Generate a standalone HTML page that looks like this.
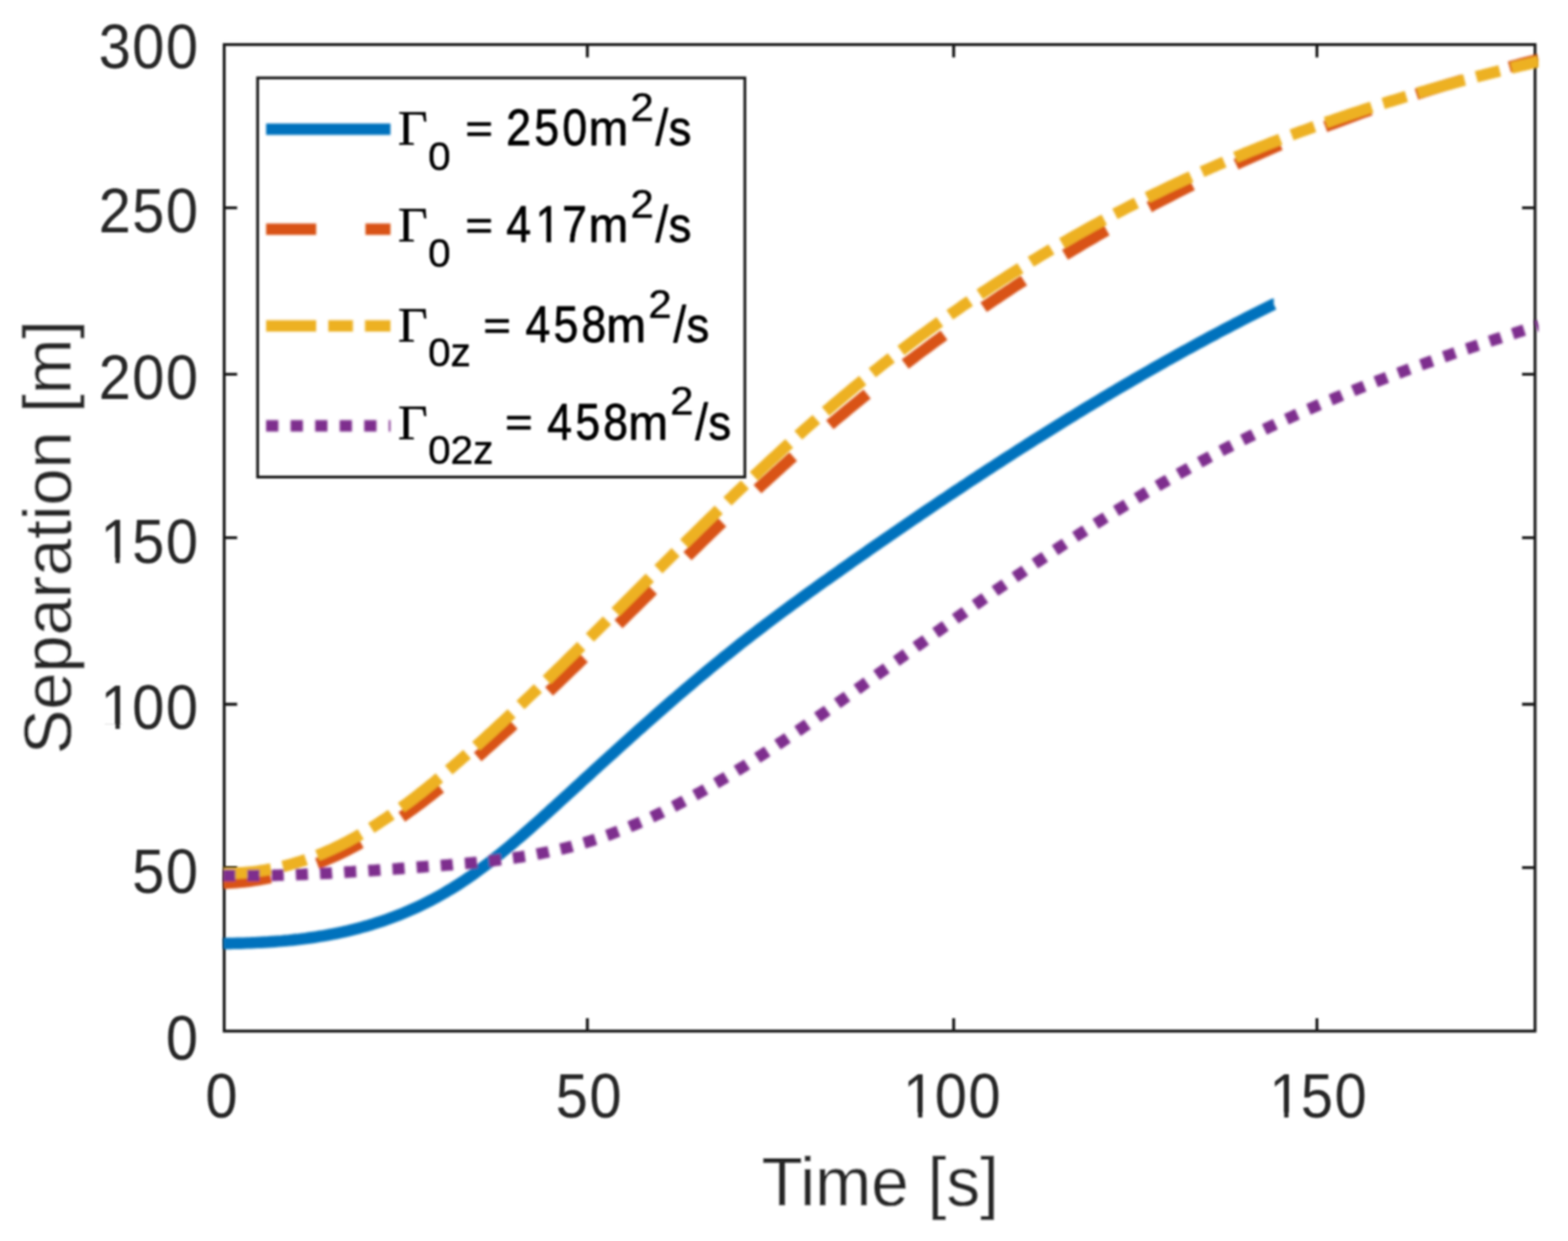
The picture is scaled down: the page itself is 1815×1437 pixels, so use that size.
<!DOCTYPE html>
<html lang="en"><head><meta charset="utf-8"><title>Separation vs Time</title>
<style>html,body{margin:0;padding:0;background:#fff;}body{width:1815px;height:1437px;overflow:hidden;}svg{display:block;}text{font-family:"Liberation Sans",sans-serif;fill:#262626;stroke:#fff;stroke-width:0.00px;stroke-linejoin:round;}.g{font-family:"Liberation Serif",serif;}</style></head><body>
<svg xmlns="http://www.w3.org/2000/svg" width="1815" height="1437" viewBox="0 0 1815 1437">
<defs>
<filter id="ba" x="0" y="0" width="1815" height="1437" filterUnits="userSpaceOnUse"><feGaussianBlur stdDeviation="0.95"/></filter>
<filter id="bc" x="0" y="0" width="1815" height="1437" filterUnits="userSpaceOnUse"><feGaussianBlur stdDeviation="1.40"/></filter>
<filter id="bt" x="0" y="0" width="1815" height="1437" filterUnits="userSpaceOnUse"><feGaussianBlur stdDeviation="1.10"/></filter>
<clipPath id="cp"><rect x="257.9" y="50.0" width="1523.1" height="1145.6"/></clipPath><clipPath id="c58_50_n0_90"><polygon points="-5.85,-49.73 22.88,-49.73 22.88,-6.12 20.33,-6.12 20.33,3.51 14.26,3.51 14.26,-6.12 -5.85,-6.12"/></clipPath><clipPath id="c72_80_0_00"><polygon points="-7.28,-61.88 27.74,-61.88 27.74,-5.94 24.24,-5.94 24.24,4.37 18.81,4.37 18.81,-5.94 -7.28,-5.94"/></clipPath></defs>
<rect x="0" y="0" width="1815" height="1437" fill="#fff"/>
<g filter="url(#ba)" fill="none" stroke="#161616" stroke-width="3.30">
<rect x="259.50" y="51.60" width="1517.35" height="1142.35"/>
<path d="M679.9,1194.0 v-15.0 M679.9,51.6 v15.0"/>
<path d="M1103.9,1194.0 v-15.0 M1103.9,51.6 v15.0"/>
<path d="M1524.4,1194.0 v-15.0 M1524.4,51.6 v15.0"/>
<path d="M259.5,1004.6 h15.0 M1776.8,1004.6 h-15.0"/>
<path d="M259.5,815.5 h15.0 M1776.8,815.5 h-15.0"/>
<path d="M259.5,622.7 h15.0 M1776.8,622.7 h-15.0"/>
<path d="M259.5,433.4 h15.0 M1776.8,433.4 h-15.0"/>
<path d="M259.5,240.7 h15.0 M1776.8,240.7 h-15.0"/>
</g>
<g filter="url(#bc)"><g clip-path="url(#cp)" fill="none" stroke-width="13.4" stroke-linejoin="round">
<path stroke="#0072BD" d="M258.4,1092.6 L262.4,1092.5 L266.4,1092.5 L270.4,1092.4 L274.4,1092.3 L278.4,1092.2 L282.4,1092.1 L286.4,1091.9 L290.4,1091.8 L294.4,1091.6 L298.4,1091.4 L302.4,1091.2 L306.4,1091.0 L310.4,1090.8 L314.4,1090.5 L318.4,1090.2 L322.4,1089.9 L326.4,1089.6 L330.4,1089.2 L334.4,1088.9 L338.4,1088.5 L342.4,1088.0 L346.4,1087.6 L350.4,1087.1 L354.4,1086.6 L358.4,1086.0 L362.4,1085.5 L366.4,1084.9 L370.4,1084.2 L374.4,1083.6 L378.4,1082.9 L382.4,1082.1 L386.4,1081.4 L390.4,1080.6 L394.4,1079.7 L398.4,1078.9 L402.4,1078.0 L406.4,1077.0 L410.4,1076.0 L414.4,1075.0 L418.4,1073.9 L422.4,1072.8 L426.4,1071.7 L430.4,1070.5 L434.4,1069.2 L438.4,1067.9 L442.4,1066.6 L446.4,1065.2 L450.4,1063.8 L454.4,1062.3 L458.4,1060.8 L462.4,1059.2 L466.4,1057.6 L470.4,1055.9 L474.4,1054.2 L478.4,1052.4 L482.4,1050.6 L486.4,1048.7 L490.4,1046.8 L494.4,1044.8 L498.4,1042.7 L502.4,1040.6 L506.4,1038.5 L510.4,1036.2 L514.4,1034.0 L518.4,1031.6 L522.4,1029.2 L526.4,1026.7 L530.4,1024.2 L534.4,1021.6 L538.4,1019.0 L542.4,1016.2 L546.4,1013.5 L550.4,1010.6 L554.4,1007.7 L558.4,1004.7 L562.4,1001.7 L566.4,998.7 L570.4,995.5 L574.4,992.4 L578.4,989.2 L582.4,985.9 L586.4,982.6 L590.4,979.3 L594.4,975.9 L598.4,972.5 L602.4,969.1 L606.4,965.6 L610.4,962.1 L614.4,958.6 L618.4,955.0 L622.4,951.5 L626.4,947.9 L630.4,944.3 L634.4,940.7 L638.4,937.0 L642.4,933.4 L646.4,929.8 L650.4,926.1 L654.4,922.5 L658.4,918.8 L662.4,915.2 L666.4,911.5 L670.4,907.9 L674.4,904.2 L678.4,900.5 L682.4,896.9 L686.4,893.2 L690.4,889.6 L694.4,885.9 L698.4,882.3 L702.4,878.6 L706.4,875.0 L710.4,871.4 L714.4,867.8 L718.4,864.1 L722.4,860.5 L726.4,856.9 L730.4,853.3 L734.4,849.7 L738.4,846.1 L742.4,842.6 L746.4,839.0 L750.4,835.5 L754.4,831.9 L758.4,828.4 L762.4,824.9 L766.4,821.4 L770.4,817.9 L774.4,814.4 L778.4,810.9 L782.4,807.5 L786.4,804.0 L790.4,800.6 L794.4,797.2 L798.4,793.8 L802.4,790.4 L806.4,787.0 L810.4,783.7 L814.4,780.3 L818.4,777.0 L822.4,773.7 L826.4,770.4 L830.4,767.1 L834.4,763.8 L838.4,760.6 L842.4,757.4 L846.4,754.2 L850.4,751.0 L854.4,747.8 L858.4,744.6 L862.4,741.5 L866.4,738.4 L870.4,735.3 L874.4,732.2 L878.4,729.1 L882.4,726.1 L886.4,723.0 L890.4,720.0 L894.4,717.0 L898.4,714.0 L902.4,711.0 L906.4,708.0 L910.4,705.1 L914.4,702.1 L918.4,699.2 L922.4,696.3 L926.4,693.4 L930.4,690.4 L934.4,687.6 L938.4,684.7 L942.4,681.8 L946.4,678.9 L950.4,676.1 L954.4,673.2 L958.4,670.4 L962.4,667.5 L966.4,664.7 L970.4,661.9 L974.4,659.0 L978.4,656.2 L982.4,653.4 L986.4,650.6 L990.4,647.8 L994.4,645.0 L998.4,642.2 L1002.4,639.4 L1006.4,636.6 L1010.4,633.8 L1014.4,631.0 L1018.4,628.3 L1022.4,625.5 L1026.4,622.7 L1030.4,620.0 L1034.4,617.2 L1038.4,614.5 L1042.4,611.7 L1046.4,609.0 L1050.4,606.2 L1054.4,603.5 L1058.4,600.8 L1062.4,598.1 L1066.4,595.3 L1070.4,592.6 L1074.4,589.9 L1078.4,587.2 L1082.4,584.5 L1086.4,581.8 L1090.4,579.1 L1094.4,576.5 L1098.4,573.8 L1102.4,571.1 L1106.4,568.4 L1110.4,565.8 L1114.4,563.1 L1118.4,560.5 L1122.4,557.8 L1126.4,555.2 L1130.4,552.6 L1134.4,549.9 L1138.4,547.3 L1142.4,544.7 L1146.4,542.1 L1150.4,539.5 L1154.4,536.9 L1158.4,534.3 L1162.4,531.7 L1166.4,529.1 L1170.4,526.6 L1174.4,524.0 L1178.4,521.4 L1182.4,518.9 L1186.4,516.3 L1190.4,513.8 L1194.4,511.3 L1198.4,508.7 L1202.4,506.2 L1206.4,503.7 L1210.4,501.2 L1214.4,498.7 L1218.4,496.2 L1222.4,493.7 L1226.4,491.2 L1230.4,488.8 L1234.4,486.3 L1238.4,483.8 L1242.4,481.4 L1246.4,478.9 L1250.4,476.5 L1254.4,474.0 L1258.4,471.6 L1262.4,469.2 L1266.4,466.8 L1270.4,464.4 L1274.4,462.0 L1278.4,459.6 L1282.4,457.2 L1286.4,454.8 L1290.4,452.5 L1294.4,450.1 L1298.4,447.7 L1302.4,445.4 L1306.4,443.1 L1310.4,440.7 L1314.4,438.4 L1318.4,436.1 L1322.4,433.8 L1326.4,431.5 L1330.4,429.2 L1334.4,426.9 L1338.4,424.6 L1342.4,422.4 L1346.4,420.1 L1350.4,417.8 L1354.4,415.6 L1358.4,413.4 L1362.4,411.1 L1366.4,408.9 L1370.4,406.7 L1374.4,404.5 L1378.4,402.3 L1382.4,400.1 L1386.4,397.9 L1390.4,395.8 L1394.4,393.6 L1398.4,391.4 L1402.4,389.3 L1406.4,387.2 L1410.4,385.0 L1414.4,382.9 L1418.4,380.8 L1422.4,378.7 L1426.4,376.6 L1430.4,374.5 L1434.4,372.5 L1438.4,370.4 L1442.4,368.3 L1446.4,366.3 L1450.4,364.2 L1454.4,362.2 L1458.4,360.2 L1462.4,358.2 L1466.4,356.2 L1470.4,354.2 L1474.4,352.2 L1474.5,352.2"/>
<path stroke="#D95319" stroke-dasharray="56.05 56.05" stroke-dashoffset="0.5" d="M258.4,1022.7 L262.4,1022.5 L266.4,1022.3 L270.4,1022.0 L274.4,1021.7 L278.4,1021.4 L282.4,1021.0 L286.4,1020.5 L290.4,1020.0 L294.4,1019.4 L298.4,1018.8 L302.4,1018.1 L306.4,1017.4 L310.4,1016.6 L314.4,1015.8 L318.4,1014.9 L322.4,1014.0 L326.4,1013.0 L330.4,1012.0 L334.4,1010.9 L338.4,1009.8 L342.4,1008.6 L346.4,1007.4 L350.4,1006.1 L354.4,1004.7 L358.4,1003.3 L362.4,1001.8 L366.4,1000.3 L370.4,998.8 L374.4,997.1 L378.4,995.4 L382.4,993.7 L386.4,991.9 L390.4,990.1 L394.4,988.2 L398.4,986.2 L402.4,984.2 L406.4,982.1 L410.4,980.0 L414.4,977.8 L418.4,975.6 L422.4,973.3 L426.4,971.0 L430.4,968.6 L434.4,966.2 L438.4,963.7 L442.4,961.2 L446.4,958.6 L450.4,956.0 L454.4,953.3 L458.4,950.6 L462.4,947.9 L466.4,945.1 L470.4,942.3 L474.4,939.4 L478.4,936.5 L482.4,933.6 L486.4,930.6 L490.4,927.6 L494.4,924.5 L498.4,921.4 L502.4,918.3 L506.4,915.1 L510.4,912.0 L514.4,908.7 L518.4,905.5 L522.4,902.2 L526.4,898.9 L530.4,895.6 L534.4,892.2 L538.4,888.8 L542.4,885.4 L546.4,882.0 L550.4,878.5 L554.4,875.1 L558.4,871.6 L562.4,868.0 L566.4,864.5 L570.4,860.9 L574.4,857.3 L578.4,853.8 L582.4,850.1 L586.4,846.5 L590.4,842.9 L594.4,839.2 L598.4,835.5 L602.4,831.8 L606.4,828.1 L610.4,824.4 L614.4,820.7 L618.4,816.9 L622.4,813.2 L626.4,809.4 L630.4,805.6 L634.4,801.8 L638.4,798.0 L642.4,794.2 L646.4,790.4 L650.4,786.5 L654.4,782.7 L658.4,778.8 L662.4,775.0 L666.4,771.1 L670.4,767.2 L674.4,763.3 L678.4,759.4 L682.4,755.5 L686.4,751.6 L690.4,747.7 L694.4,743.8 L698.4,739.9 L702.4,735.9 L706.4,732.0 L710.4,728.1 L714.4,724.1 L718.4,720.2 L722.4,716.2 L726.4,712.3 L730.4,708.3 L734.4,704.4 L738.4,700.4 L742.4,696.5 L746.4,692.5 L750.4,688.6 L754.4,684.6 L758.4,680.7 L762.4,676.7 L766.4,672.8 L770.4,668.9 L774.4,664.9 L778.4,661.0 L782.4,657.1 L786.4,653.1 L790.4,649.2 L794.4,645.3 L798.4,641.4 L802.4,637.5 L806.4,633.6 L810.4,629.7 L814.4,625.8 L818.4,621.9 L822.4,618.0 L826.4,614.2 L830.4,610.3 L834.4,606.5 L838.4,602.6 L842.4,598.8 L846.4,595.0 L850.4,591.2 L854.4,587.4 L858.4,583.6 L862.4,579.9 L866.4,576.1 L870.4,572.4 L874.4,568.6 L878.4,564.9 L882.4,561.2 L886.4,557.5 L890.4,553.8 L894.4,550.2 L898.4,546.5 L902.4,542.9 L906.4,539.3 L910.4,535.7 L914.4,532.1 L918.4,528.6 L922.4,525.0 L926.4,521.5 L930.4,518.0 L934.4,514.5 L938.4,511.0 L942.4,507.5 L946.4,504.1 L950.4,500.6 L954.4,497.2 L958.4,493.8 L962.4,490.4 L966.4,487.0 L970.4,483.7 L974.4,480.3 L978.4,477.0 L982.4,473.7 L986.4,470.4 L990.4,467.1 L994.4,463.8 L998.4,460.6 L1002.4,457.3 L1006.4,454.1 L1010.4,450.9 L1014.4,447.7 L1018.4,444.5 L1022.4,441.4 L1026.4,438.2 L1030.4,435.1 L1034.4,432.0 L1038.4,428.9 L1042.4,425.8 L1046.4,422.7 L1050.4,419.6 L1054.4,416.6 L1058.4,413.6 L1062.4,410.5 L1066.4,407.5 L1070.4,404.6 L1074.4,401.6 L1078.4,398.6 L1082.4,395.7 L1086.4,392.8 L1090.4,389.8 L1094.4,386.9 L1098.4,384.0 L1102.4,381.2 L1106.4,378.3 L1110.4,375.5 L1114.4,372.6 L1118.4,369.8 L1122.4,367.0 L1126.4,364.2 L1130.4,361.5 L1134.4,358.7 L1138.4,355.9 L1142.4,353.2 L1146.4,350.5 L1150.4,347.8 L1154.4,345.1 L1158.4,342.4 L1162.4,339.7 L1166.4,337.1 L1170.4,334.5 L1174.4,331.8 L1178.4,329.2 L1182.4,326.6 L1186.4,324.0 L1190.4,321.5 L1194.4,318.9 L1198.4,316.4 L1202.4,313.8 L1206.4,311.3 L1210.4,308.8 L1214.4,306.3 L1218.4,303.9 L1222.4,301.4 L1226.4,298.9 L1230.4,296.5 L1234.4,294.1 L1238.4,291.7 L1242.4,289.3 L1246.4,286.9 L1250.4,284.5 L1254.4,282.1 L1258.4,279.8 L1262.4,277.4 L1266.4,275.1 L1270.4,272.8 L1274.4,270.5 L1278.4,268.2 L1282.4,266.0 L1286.4,263.7 L1290.4,261.5 L1294.4,259.2 L1298.4,257.0 L1302.4,254.8 L1306.4,252.6 L1310.4,250.4 L1314.4,248.2 L1318.4,246.1 L1322.4,243.9 L1326.4,241.8 L1330.4,239.7 L1334.4,237.5 L1338.4,235.4 L1342.4,233.3 L1346.4,231.3 L1350.4,229.2 L1354.4,227.2 L1358.4,225.1 L1362.4,223.1 L1366.4,221.1 L1370.4,219.1 L1374.4,217.1 L1378.4,215.1 L1382.4,213.1 L1386.4,211.2 L1390.4,209.2 L1394.4,207.3 L1398.4,205.3 L1402.4,203.4 L1406.4,201.5 L1410.4,199.6 L1414.4,197.8 L1418.4,195.9 L1422.4,194.0 L1426.4,192.2 L1430.4,190.4 L1434.4,188.5 L1438.4,186.7 L1442.4,184.9 L1446.4,183.1 L1450.4,181.4 L1454.4,179.6 L1458.4,177.8 L1462.4,176.1 L1466.4,174.3 L1470.4,172.6 L1474.4,170.9 L1478.4,169.2 L1482.4,167.5 L1486.4,165.8 L1490.4,164.2 L1494.4,162.5 L1498.4,160.9 L1502.4,159.2 L1506.4,157.6 L1510.4,156.0 L1514.4,154.4 L1518.4,152.8 L1522.4,151.2 L1526.4,149.6 L1530.4,148.0 L1534.4,146.5 L1538.4,144.9 L1542.4,143.4 L1546.4,141.9 L1550.4,140.4 L1554.4,138.9 L1558.4,137.4 L1562.4,135.9 L1566.4,134.4 L1570.4,132.9 L1574.4,131.5 L1578.4,130.0 L1582.4,128.6 L1586.4,127.2 L1590.4,125.8 L1594.4,124.4 L1598.4,123.0 L1602.4,121.6 L1606.4,120.2 L1610.4,118.8 L1614.4,117.5 L1618.4,116.1 L1622.4,114.8 L1626.4,113.5 L1630.4,112.1 L1634.4,110.8 L1638.4,109.5 L1642.4,108.2 L1646.4,107.0 L1650.4,105.7 L1654.4,104.4 L1658.4,103.2 L1662.4,101.9 L1666.4,100.7 L1670.4,99.4 L1674.4,98.2 L1678.4,97.0 L1682.4,95.8 L1686.4,94.6 L1690.4,93.4 L1694.4,92.3 L1698.4,91.1 L1702.4,89.9 L1706.4,88.8 L1710.4,87.7 L1714.4,86.5 L1718.4,85.4 L1722.4,84.3 L1726.4,83.2 L1730.4,82.1 L1734.4,81.0 L1738.4,79.9 L1742.4,78.8 L1746.4,77.8 L1750.4,76.7 L1754.4,75.7 L1758.4,74.6 L1762.4,73.6 L1766.4,72.6 L1770.4,71.6 L1774.4,70.6 L1778.4,69.6 L1781.0,68.9"/>
<path stroke="#EDB120" stroke-dasharray="56.05 14.01 28.03 14.01" stroke-dashoffset="0.5" d="M258.4,1011.2 L262.4,1011.2 L266.4,1011.2 L270.4,1011.1 L274.4,1011.0 L278.4,1010.7 L282.4,1010.5 L286.4,1010.1 L290.4,1009.8 L294.4,1009.3 L298.4,1008.8 L302.4,1008.2 L306.4,1007.6 L310.4,1006.9 L314.4,1006.2 L318.4,1005.3 L322.4,1004.5 L326.4,1003.5 L330.4,1002.6 L334.4,1001.5 L338.4,1000.4 L342.4,999.2 L346.4,998.0 L350.4,996.7 L354.4,995.3 L358.4,993.9 L362.4,992.5 L366.4,990.9 L370.4,989.3 L374.4,987.7 L378.4,985.9 L382.4,984.2 L386.4,982.3 L390.4,980.4 L394.4,978.5 L398.4,976.4 L402.4,974.4 L406.4,972.2 L410.4,970.0 L414.4,967.8 L418.4,965.4 L422.4,963.1 L426.4,960.7 L430.4,958.2 L434.4,955.7 L438.4,953.1 L442.4,950.4 L446.4,947.8 L450.4,945.1 L454.4,942.3 L458.4,939.5 L462.4,936.6 L466.4,933.7 L470.4,930.8 L474.4,927.8 L478.4,924.8 L482.4,921.7 L486.4,918.6 L490.4,915.4 L494.4,912.3 L498.4,909.1 L502.4,905.8 L506.4,902.5 L510.4,899.2 L514.4,895.9 L518.4,892.5 L522.4,889.1 L526.4,885.7 L530.4,882.2 L534.4,878.7 L538.4,875.2 L542.4,871.7 L546.4,868.1 L550.4,864.6 L554.4,861.0 L558.4,857.3 L562.4,853.7 L566.4,850.0 L570.4,846.4 L574.4,842.7 L578.4,839.0 L582.4,835.3 L586.4,831.5 L590.4,827.8 L594.4,824.0 L598.4,820.2 L602.4,816.5 L606.4,812.7 L610.4,808.8 L614.4,805.0 L618.4,801.2 L622.4,797.4 L626.4,793.5 L630.4,789.6 L634.4,785.8 L638.4,781.9 L642.4,778.0 L646.4,774.1 L650.4,770.2 L654.4,766.3 L658.4,762.3 L662.4,758.4 L666.4,754.5 L670.4,750.5 L674.4,746.6 L678.4,742.6 L682.4,738.6 L686.4,734.7 L690.4,730.7 L694.4,726.7 L698.4,722.7 L702.4,718.8 L706.4,714.8 L710.4,710.8 L714.4,706.8 L718.4,702.8 L722.4,698.8 L726.4,694.8 L730.4,690.8 L734.4,686.8 L738.4,682.8 L742.4,678.8 L746.4,674.8 L750.4,670.8 L754.4,666.8 L758.4,662.8 L762.4,658.9 L766.4,654.9 L770.4,650.9 L774.4,646.9 L778.4,642.9 L782.4,639.0 L786.4,635.0 L790.4,631.0 L794.4,627.1 L798.4,623.1 L802.4,619.2 L806.4,615.2 L810.4,611.3 L814.4,607.4 L818.4,603.5 L822.4,599.6 L826.4,595.7 L830.4,591.8 L834.4,587.9 L838.4,584.0 L842.4,580.1 L846.4,576.3 L850.4,572.4 L854.4,568.6 L858.4,564.8 L862.4,561.0 L866.4,557.2 L870.4,553.4 L874.4,549.6 L878.4,545.9 L882.4,542.1 L886.4,538.4 L890.4,534.7 L894.4,531.0 L898.4,527.3 L902.4,523.6 L906.4,519.9 L910.4,516.3 L914.4,512.7 L918.4,509.1 L922.4,505.5 L926.4,501.9 L930.4,498.3 L934.4,494.8 L938.4,491.3 L942.4,487.8 L946.4,484.3 L950.4,480.9 L954.4,477.4 L958.4,474.0 L962.4,470.6 L966.4,467.2 L970.4,463.8 L974.4,460.5 L978.4,457.1 L982.4,453.8 L986.4,450.5 L990.4,447.2 L994.4,444.0 L998.4,440.7 L1002.4,437.5 L1006.4,434.3 L1010.4,431.1 L1014.4,427.9 L1018.4,424.8 L1022.4,421.6 L1026.4,418.5 L1030.4,415.4 L1034.4,412.3 L1038.4,409.3 L1042.4,406.2 L1046.4,403.2 L1050.4,400.2 L1054.4,397.2 L1058.4,394.2 L1062.4,391.2 L1066.4,388.2 L1070.4,385.3 L1074.4,382.4 L1078.4,379.5 L1082.4,376.6 L1086.4,373.7 L1090.4,370.9 L1094.4,368.1 L1098.4,365.2 L1102.4,362.4 L1106.4,359.7 L1110.4,356.9 L1114.4,354.1 L1118.4,351.4 L1122.4,348.7 L1126.4,346.0 L1130.4,343.3 L1134.4,340.6 L1138.4,337.9 L1142.4,335.3 L1146.4,332.7 L1150.4,330.0 L1154.4,327.5 L1158.4,324.9 L1162.4,322.3 L1166.4,319.8 L1170.4,317.2 L1174.4,314.7 L1178.4,312.2 L1182.4,309.7 L1186.4,307.2 L1190.4,304.8 L1194.4,302.3 L1198.4,299.9 L1202.4,297.5 L1206.4,295.1 L1210.4,292.7 L1214.4,290.3 L1218.4,287.9 L1222.4,285.6 L1226.4,283.3 L1230.4,281.0 L1234.4,278.7 L1238.4,276.4 L1242.4,274.1 L1246.4,271.8 L1250.4,269.6 L1254.4,267.4 L1258.4,265.1 L1262.4,262.9 L1266.4,260.7 L1270.4,258.6 L1274.4,256.4 L1278.4,254.3 L1282.4,252.1 L1286.4,250.0 L1290.4,247.9 L1294.4,245.8 L1298.4,243.7 L1302.4,241.6 L1306.4,239.6 L1310.4,237.5 L1314.4,235.5 L1318.4,233.5 L1322.4,231.5 L1326.4,229.5 L1330.4,227.5 L1334.4,225.5 L1338.4,223.6 L1342.4,221.7 L1346.4,219.7 L1350.4,217.8 L1354.4,215.9 L1358.4,214.0 L1362.4,212.1 L1366.4,210.3 L1370.4,208.4 L1374.4,206.6 L1378.4,204.7 L1382.4,202.9 L1386.4,201.1 L1390.4,199.3 L1394.4,197.5 L1398.4,195.8 L1402.4,194.0 L1406.4,192.3 L1410.4,190.5 L1414.4,188.8 L1418.4,187.1 L1422.4,185.4 L1426.4,183.7 L1430.4,182.0 L1434.4,180.3 L1438.4,178.7 L1442.4,177.0 L1446.4,175.4 L1450.4,173.8 L1454.4,172.2 L1458.4,170.5 L1462.4,169.0 L1466.4,167.4 L1470.4,165.8 L1474.4,164.2 L1478.4,162.7 L1482.4,161.1 L1486.4,159.6 L1490.4,158.1 L1494.4,156.6 L1498.4,155.1 L1502.4,153.6 L1506.4,152.1 L1510.4,150.7 L1514.4,149.2 L1518.4,147.7 L1522.4,146.3 L1526.4,144.9 L1530.4,143.5 L1534.4,142.0 L1538.4,140.6 L1542.4,139.3 L1546.4,137.9 L1550.4,136.5 L1554.4,135.1 L1558.4,133.8 L1562.4,132.4 L1566.4,131.1 L1570.4,129.8 L1574.4,128.5 L1578.4,127.2 L1582.4,125.9 L1586.4,124.6 L1590.4,123.3 L1594.4,122.0 L1598.4,120.7 L1602.4,119.5 L1606.4,118.2 L1610.4,117.0 L1614.4,115.8 L1618.4,114.6 L1622.4,113.3 L1626.4,112.1 L1630.4,110.9 L1634.4,109.7 L1638.4,108.6 L1642.4,107.4 L1646.4,106.2 L1650.4,105.1 L1654.4,103.9 L1658.4,102.8 L1662.4,101.6 L1666.4,100.5 L1670.4,99.4 L1674.4,98.3 L1678.4,97.2 L1682.4,96.1 L1686.4,95.0 L1690.4,93.9 L1694.4,92.8 L1698.4,91.8 L1702.4,90.7 L1706.4,89.7 L1710.4,88.6 L1714.4,87.6 L1718.4,86.5 L1722.4,85.5 L1726.4,84.5 L1730.4,83.5 L1734.4,82.5 L1738.4,81.5 L1742.4,80.5 L1746.4,79.5 L1750.4,78.5 L1754.4,77.5 L1758.4,76.6 L1762.4,75.6 L1766.4,74.7 L1770.4,73.7 L1774.4,72.8 L1778.4,71.8 L1781.0,71.2"/>
<path stroke="#7E2F8E" stroke-dasharray="14.01 14.01" stroke-dashoffset="0.0" d="M258.4,1013.7 L262.4,1013.8 L266.4,1013.8 L270.4,1013.9 L274.4,1013.9 L278.4,1013.9 L282.4,1013.9 L286.4,1013.9 L290.4,1013.9 L294.4,1013.9 L298.4,1013.8 L302.4,1013.8 L306.4,1013.7 L310.4,1013.6 L314.4,1013.6 L318.4,1013.5 L322.4,1013.4 L326.4,1013.3 L330.4,1013.2 L334.4,1013.0 L338.4,1012.9 L342.4,1012.8 L346.4,1012.6 L350.4,1012.5 L354.4,1012.3 L358.4,1012.1 L362.4,1011.9 L366.4,1011.8 L370.4,1011.6 L374.4,1011.4 L378.4,1011.2 L382.4,1011.0 L386.4,1010.7 L390.4,1010.5 L394.4,1010.3 L398.4,1010.1 L402.4,1009.8 L406.4,1009.6 L410.4,1009.3 L414.4,1009.1 L418.4,1008.8 L422.4,1008.6 L426.4,1008.3 L430.4,1008.0 L434.4,1007.8 L438.4,1007.5 L442.4,1007.2 L446.4,1006.9 L450.4,1006.6 L454.4,1006.4 L458.4,1006.1 L462.4,1005.8 L466.4,1005.5 L470.4,1005.2 L474.4,1004.9 L478.4,1004.6 L482.4,1004.3 L486.4,1004.0 L490.4,1003.7 L494.4,1003.4 L498.4,1003.1 L502.4,1002.8 L506.4,1002.5 L510.4,1002.2 L514.4,1001.9 L518.4,1001.6 L522.4,1001.3 L526.4,1000.9 L530.4,1000.6 L534.4,1000.2 L538.4,999.9 L542.4,999.5 L546.4,999.1 L550.4,998.8 L554.4,998.4 L558.4,997.9 L562.4,997.5 L566.4,997.1 L570.4,996.6 L574.4,996.1 L578.4,995.6 L582.4,995.1 L586.4,994.6 L590.4,994.0 L594.4,993.5 L598.4,992.9 L602.4,992.3 L606.4,991.6 L610.4,991.0 L614.4,990.3 L618.4,989.6 L622.4,988.8 L626.4,988.1 L630.4,987.3 L634.4,986.5 L638.4,985.6 L642.4,984.8 L646.4,983.8 L650.4,982.9 L654.4,981.9 L658.4,980.9 L662.4,979.9 L666.4,978.8 L670.4,977.7 L674.4,976.6 L678.4,975.4 L682.4,974.2 L686.4,972.9 L690.4,971.6 L694.4,970.3 L698.4,968.9 L702.4,967.5 L706.4,966.1 L710.4,964.6 L714.4,963.1 L718.4,961.6 L722.4,960.0 L726.4,958.4 L730.4,956.7 L734.4,955.0 L738.4,953.3 L742.4,951.6 L746.4,949.8 L750.4,948.0 L754.4,946.2 L758.4,944.3 L762.4,942.4 L766.4,940.5 L770.4,938.5 L774.4,936.5 L778.4,934.5 L782.4,932.5 L786.4,930.4 L790.4,928.3 L794.4,926.2 L798.4,924.1 L802.4,921.9 L806.4,919.7 L810.4,917.5 L814.4,915.2 L818.4,912.9 L822.4,910.7 L826.4,908.3 L830.4,906.0 L834.4,903.6 L838.4,901.3 L842.4,898.9 L846.4,896.4 L850.4,894.0 L854.4,891.5 L858.4,889.1 L862.4,886.6 L866.4,884.0 L870.4,881.5 L874.4,879.0 L878.4,876.4 L882.4,873.8 L886.4,871.2 L890.4,868.6 L894.4,866.0 L898.4,863.3 L902.4,860.6 L906.4,858.0 L910.4,855.3 L914.4,852.6 L918.4,849.9 L922.4,847.1 L926.4,844.4 L930.4,841.6 L934.4,838.9 L938.4,836.1 L942.4,833.3 L946.4,830.5 L950.4,827.7 L954.4,824.9 L958.4,822.1 L962.4,819.3 L966.4,816.5 L970.4,813.6 L974.4,810.8 L978.4,807.9 L982.4,805.1 L986.4,802.2 L990.4,799.4 L994.4,796.5 L998.4,793.6 L1002.4,790.7 L1006.4,787.9 L1010.4,785.0 L1014.4,782.1 L1018.4,779.2 L1022.4,776.3 L1026.4,773.5 L1030.4,770.6 L1034.4,767.7 L1038.4,764.8 L1042.4,761.9 L1046.4,759.0 L1050.4,756.2 L1054.4,753.3 L1058.4,750.4 L1062.4,747.5 L1066.4,744.7 L1070.4,741.8 L1074.4,738.9 L1078.4,736.1 L1082.4,733.2 L1086.4,730.4 L1090.4,727.5 L1094.4,724.7 L1098.4,721.8 L1102.4,719.0 L1106.4,716.1 L1110.4,713.3 L1114.4,710.5 L1118.4,707.6 L1122.4,704.8 L1126.4,702.0 L1130.4,699.2 L1134.4,696.4 L1138.4,693.6 L1142.4,690.8 L1146.4,688.0 L1150.4,685.2 L1154.4,682.4 L1158.4,679.7 L1162.4,676.9 L1166.4,674.1 L1170.4,671.4 L1174.4,668.6 L1178.4,665.9 L1182.4,663.2 L1186.4,660.4 L1190.4,657.7 L1194.4,655.0 L1198.4,652.3 L1202.4,649.6 L1206.4,646.9 L1210.4,644.2 L1214.4,641.6 L1218.4,638.9 L1222.4,636.3 L1226.4,633.6 L1230.4,631.0 L1234.4,628.3 L1238.4,625.7 L1242.4,623.1 L1246.4,620.5 L1250.4,617.9 L1254.4,615.3 L1258.4,612.8 L1262.4,610.2 L1266.4,607.6 L1270.4,605.1 L1274.4,602.6 L1278.4,600.0 L1282.4,597.5 L1286.4,595.0 L1290.4,592.5 L1294.4,590.1 L1298.4,587.6 L1302.4,585.1 L1306.4,582.7 L1310.4,580.3 L1314.4,577.8 L1318.4,575.4 L1322.4,573.0 L1326.4,570.6 L1330.4,568.3 L1334.4,565.9 L1338.4,563.6 L1342.4,561.2 L1346.4,558.9 L1350.4,556.6 L1354.4,554.3 L1358.4,552.0 L1362.4,549.8 L1366.4,547.5 L1370.4,545.3 L1374.4,543.1 L1378.4,540.8 L1382.4,538.7 L1386.4,536.5 L1390.4,534.3 L1394.4,532.2 L1398.4,530.0 L1402.4,527.9 L1406.4,525.8 L1410.4,523.7 L1414.4,521.6 L1418.4,519.6 L1422.4,517.5 L1426.4,515.5 L1430.4,513.5 L1434.4,511.5 L1438.4,509.5 L1442.4,507.5 L1446.4,505.5 L1450.4,503.6 L1454.4,501.6 L1458.4,499.7 L1462.4,497.8 L1466.4,495.9 L1470.4,494.0 L1474.4,492.2 L1478.4,490.3 L1482.4,488.4 L1486.4,486.6 L1490.4,484.8 L1494.4,483.0 L1498.4,481.2 L1502.4,479.4 L1506.4,477.6 L1510.4,475.9 L1514.4,474.1 L1518.4,472.4 L1522.4,470.6 L1526.4,468.9 L1530.4,467.2 L1534.4,465.5 L1538.4,463.8 L1542.4,462.2 L1546.4,460.5 L1550.4,458.9 L1554.4,457.2 L1558.4,455.6 L1562.4,454.0 L1566.4,452.3 L1570.4,450.7 L1574.4,449.1 L1578.4,447.6 L1582.4,446.0 L1586.4,444.4 L1590.4,442.9 L1594.4,441.3 L1598.4,439.8 L1602.4,438.3 L1606.4,436.7 L1610.4,435.2 L1614.4,433.7 L1618.4,432.2 L1622.4,430.7 L1626.4,429.3 L1630.4,427.8 L1634.4,426.3 L1638.4,424.9 L1642.4,423.4 L1646.4,422.0 L1650.4,420.5 L1654.4,419.1 L1658.4,417.7 L1662.4,416.3 L1666.4,414.9 L1670.4,413.5 L1674.4,412.1 L1678.4,410.7 L1682.4,409.3 L1686.4,407.9 L1690.4,406.6 L1694.4,405.2 L1698.4,403.9 L1702.4,402.5 L1706.4,401.2 L1710.4,399.8 L1714.4,398.5 L1718.4,397.2 L1722.4,395.8 L1726.4,394.5 L1730.4,393.2 L1734.4,391.9 L1738.4,390.6 L1742.4,389.3 L1746.4,388.0 L1750.4,386.7 L1754.4,385.4 L1758.4,384.1 L1762.4,382.8 L1766.4,381.5 L1770.4,380.3 L1774.4,379.0 L1778.4,377.7 L1781.0,376.9"/>
</g></g>
<rect x="298.2" y="90.2" width="564.0" height="462.2" fill="#fff" stroke="none"/>
<rect filter="url(#ba)" x="298.2" y="90.2" width="564.0" height="462.2" fill="none" stroke="#161616" stroke-width="3.2"/>
<g filter="url(#bc)">
<path d="M308.0,149.6 H452.0" stroke="#0072BD" stroke-width="13.4" fill="none"/>
<path d="M308.0,265.4 H452.0" stroke="#D95319" stroke-width="13.4" fill="none" stroke-dasharray="58 57"/>
<path d="M308.0,377.4 H452.0" stroke="#EDB120" stroke-width="13.4" fill="none" stroke-dasharray="58 14 28.5 14"/>
<path d="M308.0,493.1 H452.0" stroke="#7E2F8E" stroke-width="13.4" fill="none" stroke-dasharray="14.2 14.2"/>
</g>
<g filter="url(#bt)">
<text class="g" style="font-size:57.50px;fill:#000;stroke:#000;stroke-width:0.50px;" transform="translate(460.38,168.20) scale(1.0400,1.0000)">Γ</text>
<text class="t" style="font-size:47.00px;fill:#000;stroke:#000;stroke-width:0.50px;" transform="translate(495.46,196.50) scale(1.0000,1.0000)">0</text>
<text class="t" style="font-size:58.50px;fill:#000;stroke:#000;stroke-width:1.20px;" transform="translate(538.74,164.60) scale(0.9300,0.8000)">=</text>
<text class="t" style="font-size:58.50px;letter-spacing:4.30px;fill:#000;stroke:#000;stroke-width:0.90px;" transform="translate(586.11,168.20) scale(0.8800,1.0000)">250</text>
<text class="t" style="font-size:57.00px;fill:#000;stroke:#000;stroke-width:0.90px;" transform="translate(681.13,168.20) scale(0.9700,1.0000)">m</text>
<text class="t" style="font-size:46.50px;fill:#000;stroke:#000;stroke-width:0.50px;" transform="translate(729.87,139.70) scale(1.0400,1.0000)">2</text>
<text class="t" style="font-size:58.50px;fill:#000;stroke:#000;stroke-width:0.90px;" transform="translate(758.80,168.20) scale(0.9000,1.0000)">/</text>
<text class="t" style="font-size:57.00px;fill:#000;stroke:#000;stroke-width:0.90px;" transform="translate(774.04,168.20) scale(0.9200,1.0000)">s</text>
<text class="g" style="font-size:57.50px;fill:#000;stroke:#000;stroke-width:0.50px;" transform="translate(460.38,280.40) scale(1.0400,1.0000)">Γ</text>
<text class="t" style="font-size:47.00px;fill:#000;stroke:#000;stroke-width:0.50px;" transform="translate(495.46,308.70) scale(1.0000,1.0000)">0</text>
<text class="t" style="font-size:58.50px;fill:#000;stroke:#000;stroke-width:1.20px;" transform="translate(538.74,276.80) scale(0.9300,0.8000)">=</text>
<text class="t" style="font-size:58.50px;letter-spacing:4.30px;fill:#000;stroke:#000;stroke-width:0.90px;" transform="translate(585.92,280.40) scale(0.8800,1.0000)">4</text><text class="t" style="font-size:58.50px;letter-spacing:4.30px;fill:#000;stroke:#000;stroke-width:0.90px;" clip-path="url(#c58_50_n0_90)" transform="translate(620.03,280.40) scale(0.8800,1.0000)">1</text><text class="t" style="font-size:58.50px;letter-spacing:4.30px;fill:#000;stroke:#000;stroke-width:0.90px;" transform="translate(650.75,280.40) scale(0.8800,1.0000)">7</text>
<text class="t" style="font-size:57.00px;fill:#000;stroke:#000;stroke-width:0.90px;" transform="translate(681.13,280.40) scale(0.9700,1.0000)">m</text>
<text class="t" style="font-size:46.50px;fill:#000;stroke:#000;stroke-width:0.50px;" transform="translate(729.87,251.90) scale(1.0400,1.0000)">2</text>
<text class="t" style="font-size:58.50px;fill:#000;stroke:#000;stroke-width:0.90px;" transform="translate(758.80,280.40) scale(0.9000,1.0000)">/</text>
<text class="t" style="font-size:57.00px;fill:#000;stroke:#000;stroke-width:0.90px;" transform="translate(774.04,280.40) scale(0.9200,1.0000)">s</text>
<text class="g" style="font-size:57.50px;fill:#000;stroke:#000;stroke-width:0.50px;" transform="translate(460.38,396.10) scale(1.0400,1.0000)">Γ</text>
<text class="t" style="font-size:47.00px;fill:#000;stroke:#000;stroke-width:0.50px;" transform="translate(495.46,424.40) scale(1.0000,1.0000)">0z</text>
<text class="t" style="font-size:58.50px;fill:#000;stroke:#000;stroke-width:1.20px;" transform="translate(559.44,392.50) scale(0.9300,0.8000)">=</text>
<text class="t" style="font-size:58.50px;letter-spacing:4.30px;fill:#000;stroke:#000;stroke-width:0.90px;" transform="translate(608.22,396.10) scale(0.8800,1.0000)">458</text>
<text class="t" style="font-size:57.00px;fill:#000;stroke:#000;stroke-width:0.90px;" transform="translate(701.83,396.10) scale(0.9700,1.0000)">m</text>
<text class="t" style="font-size:46.50px;fill:#000;stroke:#000;stroke-width:0.50px;" transform="translate(750.57,367.60) scale(1.0400,1.0000)">2</text>
<text class="t" style="font-size:58.50px;fill:#000;stroke:#000;stroke-width:0.90px;" transform="translate(779.50,396.10) scale(0.9000,1.0000)">/</text>
<text class="t" style="font-size:57.00px;fill:#000;stroke:#000;stroke-width:0.90px;" transform="translate(794.74,396.10) scale(0.9200,1.0000)">s</text>
<text class="g" style="font-size:57.50px;fill:#000;stroke:#000;stroke-width:0.50px;" transform="translate(460.38,508.80) scale(1.0400,1.0000)">Γ</text>
<text class="t" style="font-size:47.00px;fill:#000;stroke:#000;stroke-width:0.50px;" transform="translate(495.46,537.10) scale(1.0000,1.0000)">02z</text>
<text class="t" style="font-size:58.50px;fill:#000;stroke:#000;stroke-width:1.20px;" transform="translate(584.74,505.20) scale(0.9300,0.8000)">=</text>
<text class="t" style="font-size:58.50px;letter-spacing:4.30px;fill:#000;stroke:#000;stroke-width:0.90px;" transform="translate(633.52,508.80) scale(0.8800,1.0000)">458</text>
<text class="t" style="font-size:57.00px;fill:#000;stroke:#000;stroke-width:0.90px;" transform="translate(727.13,508.80) scale(0.9700,1.0000)">m</text>
<text class="t" style="font-size:46.50px;fill:#000;stroke:#000;stroke-width:0.50px;" transform="translate(775.87,480.30) scale(1.0400,1.0000)">2</text>
<text class="t" style="font-size:58.50px;fill:#000;stroke:#000;stroke-width:0.90px;" transform="translate(804.80,508.80) scale(0.9000,1.0000)">/</text>
<text class="t" style="font-size:57.00px;fill:#000;stroke:#000;stroke-width:0.90px;" transform="translate(820.04,508.80) scale(0.9200,1.0000)">s</text>
<text class="t" style="font-size:72.80px;letter-spacing:1.80px;" transform="translate(237.67,1294.00) scale(0.9200,1.0000)">0</text>
<text class="t" style="font-size:72.80px;letter-spacing:1.80px;" transform="translate(643.26,1294.00) scale(0.9200,1.0000)">50</text>
<text class="t" style="font-size:72.80px;letter-spacing:1.80px;" clip-path="url(#c72_80_0_00)" transform="translate(1045.37,1294.00) scale(0.9200,1.0000)">1</text><text class="t" style="font-size:72.80px;letter-spacing:1.80px;" transform="translate(1082.06,1294.00) scale(0.9200,1.0000)">00</text>
<text class="t" style="font-size:72.80px;letter-spacing:1.80px;" clip-path="url(#c72_80_0_00)" transform="translate(1469.17,1294.00) scale(0.9200,1.0000)">1</text><text class="t" style="font-size:72.80px;letter-spacing:1.80px;" transform="translate(1505.86,1294.00) scale(0.9200,1.0000)">50</text>
<text class="t" style="font-size:72.80px;letter-spacing:1.80px;" transform="translate(114.16,78.80) scale(0.9200,1.0000)">300</text>
<text class="t" style="font-size:72.80px;letter-spacing:1.80px;" transform="translate(114.16,269.20) scale(0.9200,1.0000)">250</text>
<text class="t" style="font-size:72.80px;letter-spacing:1.80px;" transform="translate(114.16,462.20) scale(0.9200,1.0000)">200</text>
<text class="t" style="font-size:72.80px;letter-spacing:1.80px;" clip-path="url(#c72_80_0_00)" transform="translate(116.37,651.70) scale(0.9200,1.0000)">1</text><text class="t" style="font-size:72.80px;letter-spacing:1.80px;" transform="translate(153.06,651.70) scale(0.9200,1.0000)">50</text>
<text class="t" style="font-size:72.80px;letter-spacing:1.80px;" clip-path="url(#c72_80_0_00)" transform="translate(116.37,844.20) scale(0.9200,1.0000)">1</text><text class="t" style="font-size:72.80px;letter-spacing:1.80px;" transform="translate(153.06,844.20) scale(0.9200,1.0000)">00</text>
<text class="t" style="font-size:72.80px;letter-spacing:1.80px;" transform="translate(153.06,1033.80) scale(0.9200,1.0000)">50</text>
<text class="t" style="font-size:72.80px;letter-spacing:1.80px;" transform="translate(191.97,1226.70) scale(0.9200,1.0000)">0</text>
<text class="t" style="font-size:80.00px;stroke-width:0.30px;" transform="translate(881.45,1396.00) scale(0.9760,1.0000)">Time [s]</text>
<text class="t" style="font-size:77.00px;letter-spacing:0.00px;stroke-width:0.30px" transform="translate(82.00,873.21) rotate(-90) scale(1.0037,1)">Separation [m]</text>
</g></svg></body></html>
